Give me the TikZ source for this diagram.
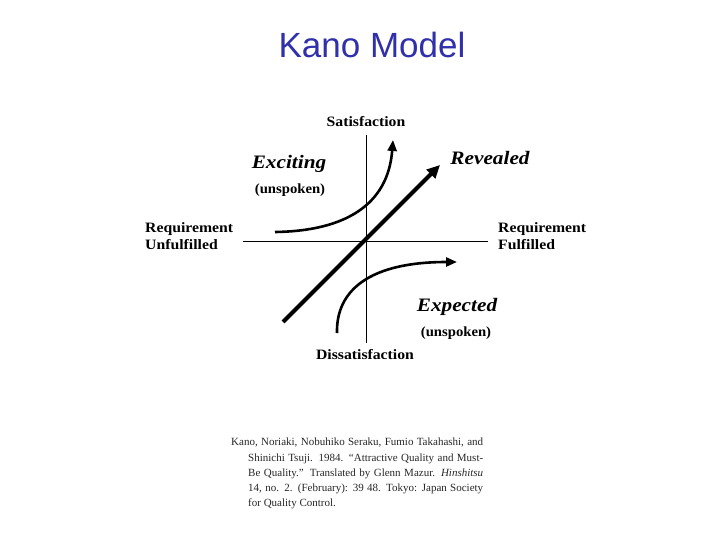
\documentclass[tikz,border=0pt]{standalone}
\usepackage{fontspec}
\setmainfont{Liberation Serif}
\newfontfamily\titlefont{Liberation Sans}
\usetikzlibrary{arrows.meta}
\definecolor{titleblue}{RGB}{48,48,170}
\tikzset{
  axislabel/.style={font=\fontsize{14.3}{17}\selectfont\bfseries, xscale=1.1, align=left, inner sep=0pt},
  curvelabel/.style={font=\fontsize{19}{22}\selectfont\bfseries\itshape, xscale=1.12, inner sep=0pt},
  sublabel/.style={font=\fontsize{14}{17}\selectfont\bfseries, xscale=1.05, inner sep=0pt},
  reftext/.style={font=\fontsize{11}{13}\selectfont, anchor=west, inner sep=0pt, text=black!85},
  axis/.style={line width=1.1pt},
  curvearrow/.style={line width=2.6pt, -{Triangle[length=11pt,width=9pt]}},
  bigarrow/.style={line width=4.2pt, -{Triangle[length=13pt,width=12pt]}},
}
\begin{document}
\begin{tikzpicture}[x=1pt,y=-1pt]
\useasboundingbox (0,0) rectangle (720,540);
% title
\node[font=\titlefont\fontsize{35}{40}\selectfont, text=titleblue, inner sep=0pt] (title) at (372,45) {Kano Model};
% axes
\coordinate (xl) at (243,241.5);
\coordinate (xr) at (488,241.5);
\coordinate (yt) at (366.5,135);
\coordinate (yb) at (366.5,343);
\draw[axis] (xl) -- (xr);
\draw[axis] (yt) -- (yb);
% axis labels
\node[axislabel] (sat) at (366,122) {Satisfaction};
\node[axislabel] (dis) at (365,355) {Dissatisfaction};
\node[axislabel, anchor=west] (unf) at (145,236.5) {Requirement\\Unfulfilled};
\node[axislabel, anchor=west] (ful) at (498,236.5) {Requirement\\Fulfilled};
% curves
\coordinate (exs) at (275,232);
\coordinate (exe) at (393,140);
\draw[curvearrow] (exs) .. controls (345,231) and (388,205) .. (exe);
\coordinate (eps) at (337,333);
\coordinate (epe) at (457,262);
\draw[curvearrow] (eps) .. controls (336,290) and (370,262) .. (epe);
\coordinate (rvs) at (283,322);
\coordinate (rve) at (440,165);
\draw[bigarrow] (rvs) -- (rve);
% curve labels
\node[curvelabel] (exc) at (289,164) {Exciting};
\node[sublabel] (excu) at (290,190) {(unspoken)};
\node[curvelabel] (rev) at (490,158) {Revealed};
\node[curvelabel] (exp) at (457,307) {Expected};
\node[sublabel] (expu) at (456,333) {(unspoken)};
% reference
\node[reftext] (r1) at (231,443) {\makebox[252pt][s]{Kano, Noriaki, Nobuhiko Seraku, Fumio Takahashi, and}};
\node[reftext] (r2) at (248,458.5) {\makebox[235pt][s]{Shinichi Tsuji. 1984. “Attractive Quality and Must-}};
\node[reftext] (r3) at (248,474) {\makebox[235pt][s]{Be Quality.” Translated by Glenn Mazur. \textit{Hinshitsu}}};
\node[reftext] (r4) at (248,489) {\makebox[235pt][s]{14, no. 2. (February): 39 48. Tokyo: Japan Society}};
\node[reftext] (r5) at (248,504) {for Quality Control.};
\end{tikzpicture}
\end{document}
